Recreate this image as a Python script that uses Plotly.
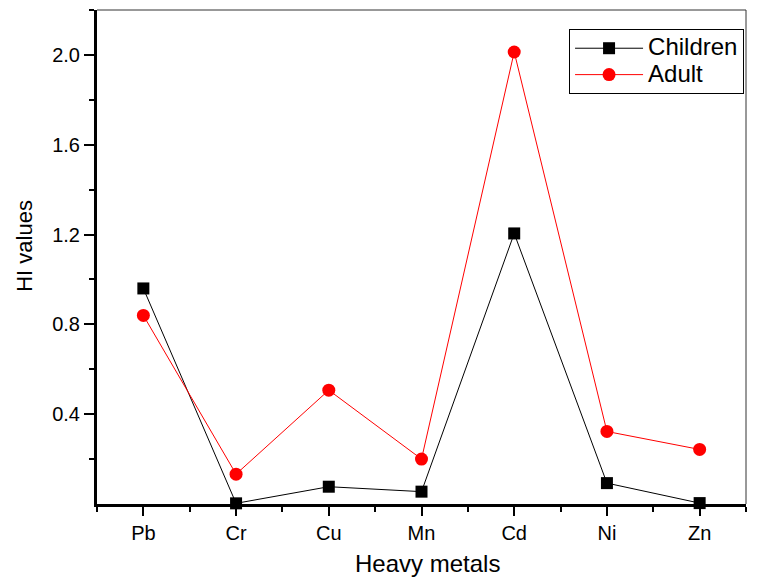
import plotly.graph_objects as go

metals = ["Pb", "Cr", "Cu", "Mn", "Cd", "Ni", "Zn"]
children = [0.96, 0.003, 0.077, 0.055, 1.205, 0.093, 0.004]
adult = [0.84, 0.133, 0.507, 0.200, 2.013, 0.323, 0.243]
y_ticks = [0.4, 0.8, 1.2, 1.6, 2.0]
series_names = ["Children", "Adult"]

xpos = list(range(len(metals)))
FONT = "Arial, Liberation Sans, sans-serif"


def big(name):
    return '<span style="font-size:24px">' + name + '</span>'


fig = go.Figure()
fig.add_trace(go.Scatter(
    x=xpos, y=children, name=big(series_names[0]), mode="lines+markers",
    line=dict(color="black", width=1),
    marker=dict(symbol="square", size=12, color="black"),
    cliponaxis=False,
))
fig.add_trace(go.Scatter(
    x=xpos, y=adult, name=big(series_names[1]), mode="lines+markers",
    line=dict(color="red", width=1),
    marker=dict(symbol="circle", size=13, color="red"),
    cliponaxis=False,
))

fig.update_layout(
    width=761, height=579,
    margin=dict(l=89, r=23, t=2, b=83),
    paper_bgcolor="white", plot_bgcolor="white",
    font=dict(family=FONT, color="black", size=20),
    showlegend=True,
    legend=dict(
        x=0.997, y=0.9615, xanchor="right", yanchor="top",
        bordercolor="black", borderwidth=1, bgcolor="white",
        font=dict(size=18, family=FONT),
        itemwidth=68, itemsizing="trace", tracegroupgap=0,
    ),
    xaxis=dict(
        range=[-0.5, 6.5],
        tickmode="array", tickvals=xpos, ticktext=metals,
        showgrid=False, zeroline=False,
        showline=True, linecolor="black", linewidth=3,
        ticks="outside", ticklen=9, tickwidth=2, tickcolor="black",
        minor=dict(tick0=0.5, dtick=1, ticks="outside", ticklen=5,
                   tickwidth=2, tickcolor="black", showgrid=False),
        tickfont=dict(size=20),
    ),
    yaxis=dict(
        range=[0, 2.2],
        tickmode="array", tickvals=y_ticks, tickformat=".1f",
        showgrid=False, zeroline=False,
        showline=True, linecolor="black", linewidth=3,
        ticks="outside", ticklen=10, tickwidth=2, tickcolor="black",
        minor=dict(tick0=0.2, dtick=0.4, ticks="outside", ticklen=5,
                   tickwidth=2, tickcolor="black", showgrid=False),
        tickfont=dict(size=20),
    ),
    annotations=[
        dict(text="Heavy metals", xref="paper", yref="paper", x=0.510, y=-0.121,
             xanchor="center", yanchor="middle", showarrow=False,
             font=dict(size=24, family=FONT, color="black")),
        dict(text="HI values", xref="paper", yref="paper", x=-0.113, y=0.522,
             xanchor="center", yanchor="middle", showarrow=False, textangle=-90,
             font=dict(size=22, family=FONT, color="black")),
    ],
)

fig.add_shape(type="line", xref="paper", yref="paper", x0=0, x1=1, y0=1, y1=1,
              line=dict(color="#333333", width=1))
fig.add_shape(type="line", xref="paper", yref="paper", x0=1, x1=1, y0=0, y1=1,
              line=dict(color="#333333", width=1))

fig.write_html("out.html")
